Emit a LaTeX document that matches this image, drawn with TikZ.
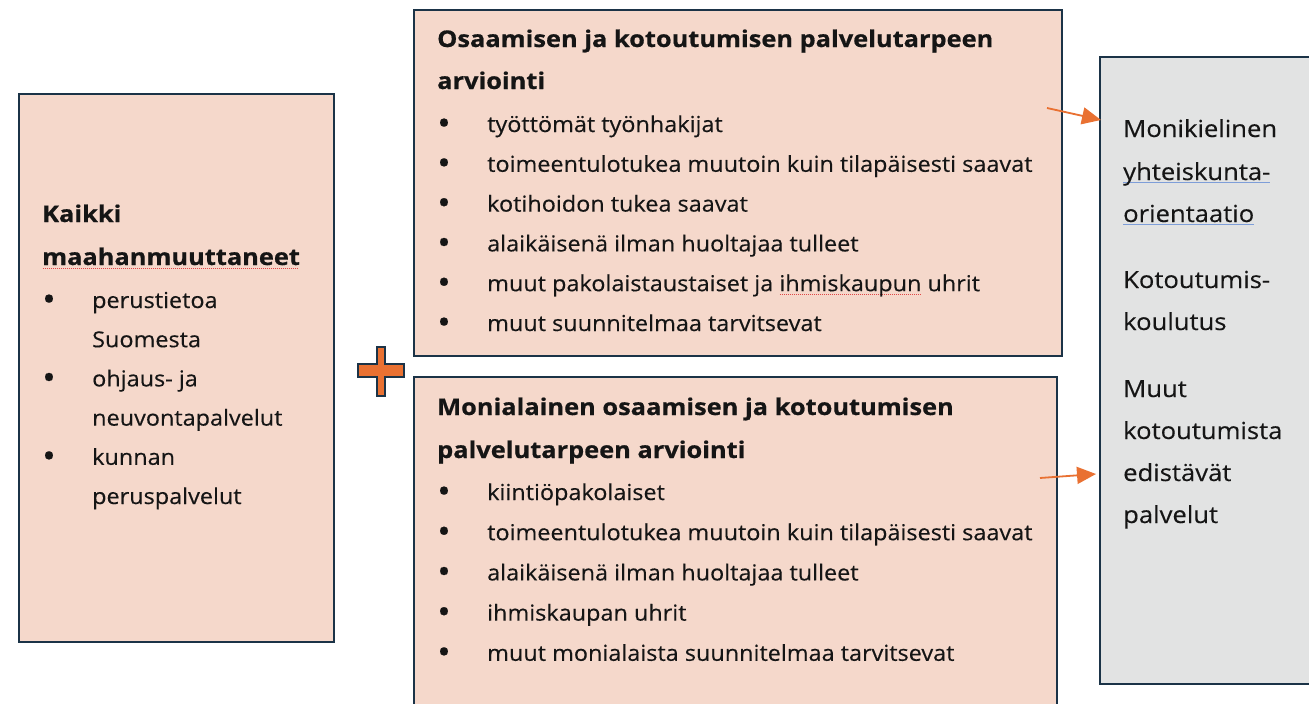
\documentclass[tikz,border=0pt]{standalone}
\usepackage{fontspec}
\setmainfont{Open Sans}[FakeStretch=1.065,FakeBold=0.3]
\newfontfamily\otsikkofont{Open Sans}[FakeStretch=1.104,FakeBold=0.6]
\newfontfamily\oikeafont{Open Sans}[FakeStretch=1.09,FakeBold=0.3]
\usetikzlibrary{arrows.meta,positioning,calc}
\definecolor{Navy}{HTML}{1B3347}
\definecolor{Peach}{HTML}{F5D8CB}
\definecolor{Grey}{HTML}{E2E3E3}
\definecolor{Orange}{HTML}{E97132}
\definecolor{Ink}{HTML}{151515}
\definecolor{Spellred}{HTML}{E04848}
\definecolor{Spellblue}{HTML}{7E9ED8}
% bullet with hanging indent, and the two kinds of proofing marks
\newcommand\bl{\makebox[50pt][l]{\raisebox{-3pt}{\fontsize{34}{34}\selectfont\textbullet}}}
\newcommand\spellblue[1]{\setbox0=\hbox{#1}\rlap{\color{Spellblue}\rule[-3pt]{\wd0}{1.3pt}}\box0\relax}
\newcommand\spellred[1]{\setbox0=\hbox{#1}\rlap{\color{Spellred}\raisebox{-3.5pt}{\hbox to\wd0{\leaders\hbox to 2pt{\hss\rule{1pt}{0.9pt}\hss}\hfill}}}\box0\relax}

\begin{document}
\begin{tikzpicture}[x=1pt,y=-1pt,
    laatikko/.style={draw=Navy,line width=2pt,fill=Peach,inner sep=0pt,outer sep=0pt,anchor=north west},
    rivi/.style={anchor=base west,inner sep=0pt,text=Ink,font=\fontsize{22}{26}\selectfont},
    otsikko/.style={rivi,font=\fontsize{23}{27}\otsikkofont\bfseries},
    oikea/.style={rivi,font=\fontsize{23.5}{27}\oikeafont},
    nuoli/.style={-{Triangle[length=19pt,width=17pt]},line width=1.8pt,Orange}
  ]
  \useasboundingbox (0,0) rectangle (1309,704);
  % boxes
  \node[laatikko,minimum width=315pt,minimum height=548pt] (kaikki) at (19,94) {};
  \node[laatikko,minimum width=648pt,minimum height=346pt] (osaaminen) at (414,10) {};
  \node[laatikko,minimum width=643pt,minimum height=360pt] (monialainen) at (414,377) {};
  \node[laatikko,fill=Grey,minimum width=230pt,minimum height=627pt] (palvelut) at (1100,57) {};
  % left box
  \node[otsikko] (k0) at (42,222) {Kaikki};
  \node[otsikko] (k1) at (42,265) {\spellred{maahanmuuttaneet}};
  \foreach \t [count=\i from 0] in {\bl perustietoa,\hspace{50pt}Suomesta,\bl ohjaus- ja,
      \hspace{50pt}neuvontapalvelut,\bl kunnan,\hspace{50pt}peruspalvelut}
    \node[rivi] (kr\i) at (42,308+39.2*\i) {\t};
  % upper middle box
  \node[otsikko] (o0) at (437,47) {Osaamisen ja kotoutumisen palvelutarpeen};
  \node[otsikko] (o1) at (437,89) {arviointi};
  \foreach \t [count=\i from 0] in {työttömät työnhakijat,toimeentulotukea muutoin kuin tilapäisesti saavat,
      kotihoidon tukea saavat,alaikäisenä ilman huoltajaa tulleet,
      muut pakolaistaustaiset ja \spellred{ihmiskaupun} uhrit,muut suunnitelmaa tarvitsevat}
    \node[rivi] (or\i) at (437,132+39.8*\i) {\bl\t};
  % lower middle box
  \node[otsikko] (m0) at (437,415) {Monialainen osaamisen ja kotoutumisen};
  \node[otsikko] (m1) at (437,458) {palvelutarpeen arviointi};
  \foreach \t [count=\i from 0] in {kiintiöpakolaiset,toimeentulotukea muutoin kuin tilapäisesti saavat,
      alaikäisenä ilman huoltajaa tulleet,ihmiskaupan uhrit,muut monialaista suunnitelmaa tarvitsevat}
    \node[rivi] (mr\i) at (437,500+40.2*\i) {\bl\t};
  % right box
  \foreach \t/\y [count=\i] in {Monikielinen/137,\spellblue{yhteiskunta-}/180,\spellblue{orientaatio}/222,
      Kotoutumis-/288,koulutus/330,Muut/397,kotoutumista/439,edistävät/481,palvelut/523}
    \node[oikea] (p\i) at (1123,\y) {\t};
  % plus sign
  \draw[Navy,line width=2pt,fill=Orange] (377,347) -- (385,347) -- (385,364) -- (404,364) -- (404,377)
    -- (385,377) -- (385,396) -- (377,396) -- (377,377) -- (358,377) -- (358,364) -- (377,364) -- cycle;
  % arrows
  \coordinate (a1) at ([xshift=-15pt,yshift=-98pt]osaaminen.north east);
  \coordinate (b1) at ([xshift=1pt,yshift=-63pt]palvelut.north west);
  \coordinate (a2) at ([xshift=-17pt,yshift=-101pt]monialainen.north east);
  \coordinate (b2) at ([xshift=-4pt,yshift=-417pt]palvelut.north west);
  \draw[nuoli] (a1) -- (b1);
  \draw[nuoli] (a2) -- (b2);
\end{tikzpicture}
\end{document}
